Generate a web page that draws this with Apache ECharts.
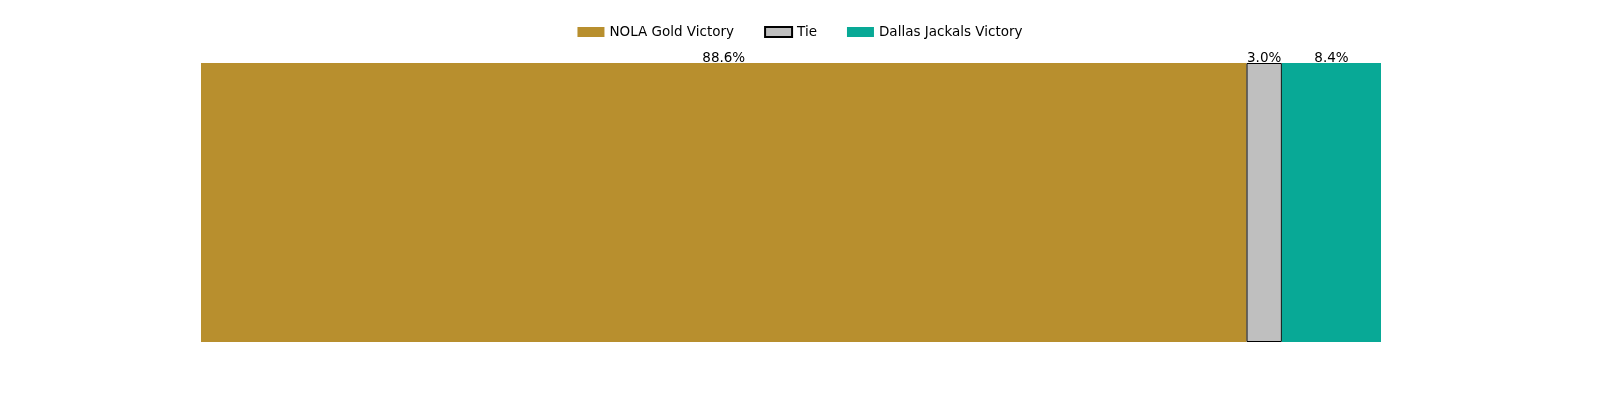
<!DOCTYPE html>
<html>
<head>
<meta charset="UTF-8">
<script src="https://cdn.jsdelivr.net/npm/echarts@6/dist/echarts.min.js"></script>
<style>body{margin:0}#main{width:1600px;height:400px}</style>
</head>
<body>
<div id="main"></div>
<script>
var categories = ['Outcome'];
var seriesNames = ['NOLA Gold Victory', 'Tie', 'Dallas Jackals Victory'];
var seriesValues = [[88.6], [3.0], [8.4]];
var colors = ['#b88f2e', '#bfbfbf', '#08a996'];

var chart = echarts.init(document.getElementById('main'));
var series = seriesNames.map(function (name, i) {
    return {
        name: name,
        type: 'bar',
        stack: 'total',
        barWidth: '100%',
        data: seriesValues[i],
        itemStyle: {
            color: colors[i],
            borderColor: i === 1 ? '#000' : colors[i],
            borderWidth: i === 1 ? 1 : 0
        },
        label: {
            show: true,
            position: 'top',
            distance: -2,
            color: '#000',
            fontSize: 13.5,
            fontFamily: 'DejaVu Sans',
            formatter: function (p) { return p.value.toFixed(1) + '%'; }
        }
    };
});

chart.setOption({
    animation: false,
    legend: {
        top: 20,
        left: 'center',
        icon: 'rect',
        itemWidth: 27,
        itemHeight: 10,
        itemGap: 30,
        textStyle: { fontSize: 13.5, fontFamily: 'DejaVu Sans', color: '#000' },
        data: seriesNames
    },
    grid: { left: 201, right: 219, top: 63, bottom: 58 },
    xAxis: { type: 'value', min: 0, max: 100, show: false },
    yAxis: { type: 'category', data: categories, show: false },
    series: series
});
</script>
</body>
</html>
